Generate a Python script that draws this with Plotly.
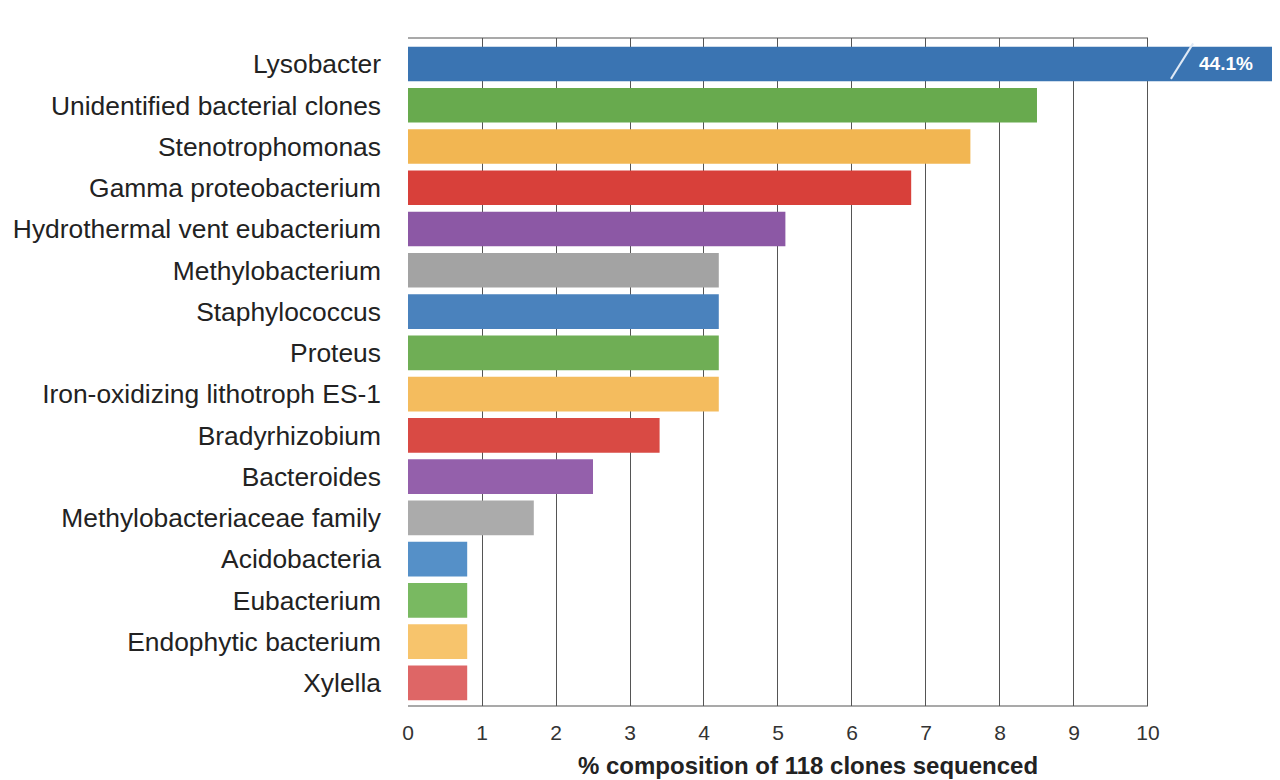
import plotly.graph_objects as go

categories = ["Lysobacter", "Unidentified bacterial clones", "Stenotrophomonas",
              "Gamma proteobacterium", "Hydrothermal vent eubacterium", "Methylobacterium",
              "Staphylococcus", "Proteus", "Iron-oxidizing lithotroph ES-1", "Bradyrhizobium",
              "Bacteroides", "Methylobacteriaceae family", "Acidobacteria", "Eubacterium",
              "Endophytic bacterium", "Xylella"]
values = [44.1, 8.5, 7.6, 6.8, 5.1, 4.2, 4.2, 4.2, 4.2, 3.4, 2.5, 1.7, 0.8, 0.8, 0.8, 0.8]
colors = ["#3a74b2", "#68aa4e", "#f2b652", "#d8403a", "#8c58a5", "#a3a3a3",
          "#4a82bd", "#6fae55", "#f4bc5e", "#d94a44", "#9460ab", "#ababab",
          "#5590c8", "#79b961", "#f7c46c", "#de6666"]
x_ticks = list(range(0, 11))
axis_max = 10
break_label = "44.1%"
x_title = "% composition of 118 clones sequenced"

fig = go.Figure(go.Bar(
    y=categories, x=values, orientation="h", marker=dict(color=colors, line=dict(width=0)),
    width=0.84, hoverinfo="x+y"))

grid = "#555555"
fig.update_layout(
    width=1272, height=772, paper_bgcolor="white", plot_bgcolor="white",
    margin=dict(l=400, r=0, t=30, b=74, autoexpand=False), showlegend=False,
    font=dict(family="Liberation Sans, Arial, sans-serif", color="#222222"),
    xaxis=dict(range=[0, 11.784], tickvals=x_ticks, ticktext=[str(v) for v in x_ticks],
               showgrid=True, gridcolor=grid, gridwidth=1, zeroline=False,
               showline=False, ticks="", tickfont=dict(size=21, color="#333333"),
               ticklabelstandoff=12, automargin=False),
    yaxis=dict(type="category", categoryorder="array", categoryarray=categories,
               range=[15.56, -0.63], showgrid=False, zeroline=False, showline=False,
               ticks="", tickfont=dict(size=26.4, color="#222222"), ticklabelstandoff=26,
               automargin=False),
)
# frame lines (top and bottom) from 0 to axis_max
for yv in (0, 1):
    fig.add_shape(type="line", xref="x", yref="paper", x0=0, x1=axis_max, y0=yv, y1=yv,
                  line=dict(color=grid, width=1.2))
# break mark on the first (truncated) bar
fig.add_shape(type="line", xref="x", yref="y", x0=10.31, x1=10.61, y0=0.36, y1=-0.5,
              line=dict(color="#dfe9f5", width=2))
fig.add_annotation(x=11.05, y=categories[0], xref="x", yref="y", text="<b>" + break_label + "</b>",
                   showarrow=False, font=dict(size=19, color="white"))
fig.add_annotation(x=5.405, y=-0.0885, xref="x", yref="paper", yanchor="middle",
                   text="<b>" + x_title + "</b>", showarrow=False,
                   font=dict(size=24, color="#222222"))
fig.write_html("out.html")
